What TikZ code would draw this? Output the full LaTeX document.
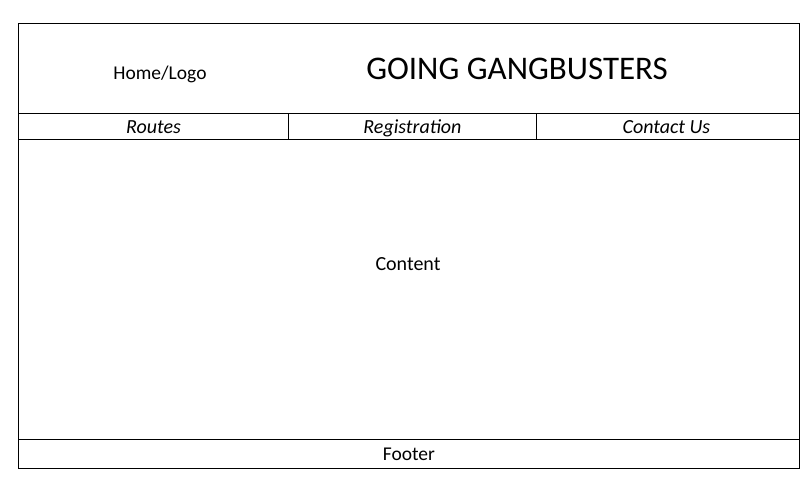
\documentclass[tikz,border=0pt]{standalone}
\usepackage{fontspec}
\setmainfont{Carlito}
\usetikzlibrary{positioning}
\tikzset{
  cell/.style={draw=black, line width=0.9pt, anchor=north west, inner sep=0pt},
  navtext/.style={font=\fontsize{20}{22}\selectfont\itshape, text height=14pt, text depth=0.6pt},
  plaintext/.style={font=\fontsize{19.5}{22}\selectfont, text height=14pt, text depth=0.6pt},
}

\begin{document}
\begin{tikzpicture}[x=1pt, y=-1pt]
  \useasboundingbox (0,0) rectangle (810,490);

  %% header
  \node[cell, minimum width=781pt, minimum height=90pt] (header) at (18,23) {};
  \node[plaintext] (logo) at (160,73) {Home/Logo};
  \node[font=\fontsize{33}{36}\selectfont] (title) at (517,69) {GOING GANGBUSTERS};

  %% nav bar
  \node[cell, minimum width=270pt, minimum height=26pt] (routes) at (18,113) {};
  \node[cell, minimum width=248pt, minimum height=26pt] (registration) at (288,113) {};
  \node[cell, minimum width=263pt, minimum height=26pt] (contact) at (536,113) {};
  \node[navtext] at (routes.center) {Routes};
  \node[navtext] at (registration.center) {Registration};
  \node[navtext] at ([xshift=-1.5pt]contact.center) {Contact Us};

  %% content
  \node[cell, minimum width=781pt, minimum height=300pt] (content) at (18,139) {};
  \node[plaintext, font=\fontsize{20}{22}\selectfont] (contenttext) at (408,264) {Content};

  %% footer
  \node[cell, minimum width=781pt, minimum height=29pt] (footer) at (18,439) {};
  \node[plaintext] at (footer.center) {Footer};
\end{tikzpicture}
\end{document}
